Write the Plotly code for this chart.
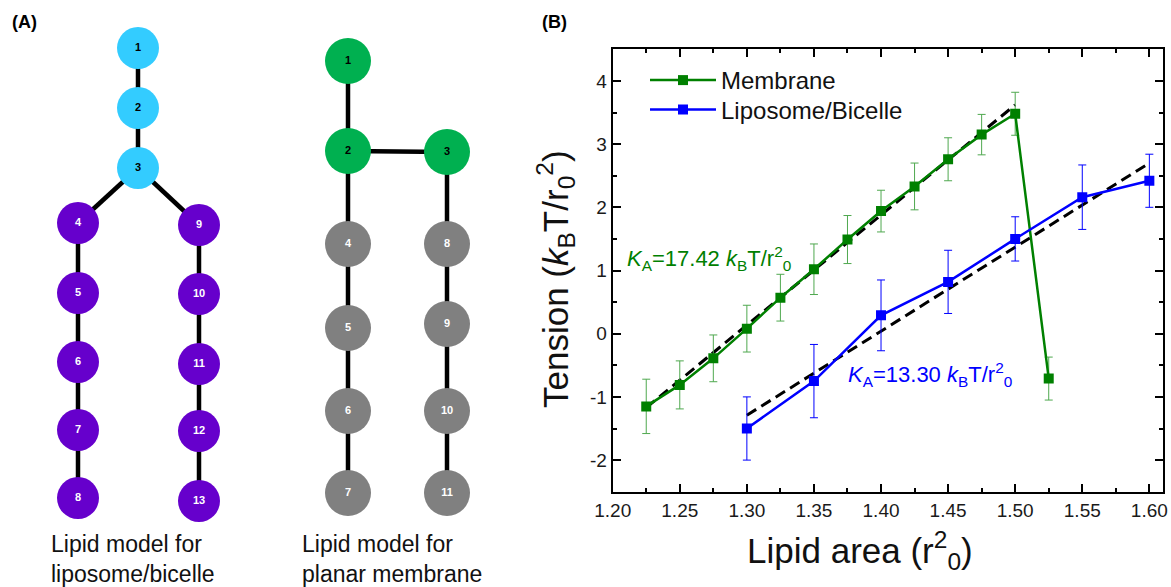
import plotly.graph_objects as go

# ---------------- Panel B data ----------------
area_membrane = [1.225, 1.25, 1.275, 1.30, 1.325, 1.35, 1.375, 1.40, 1.425, 1.45, 1.475, 1.50, 1.525]
tension_membrane = [-1.15, -0.81, -0.39, 0.08, 0.57, 1.02, 1.49, 1.94, 2.33, 2.76, 3.15, 3.48, -0.71]
err_membrane = [0.43, 0.38, 0.37, 0.37, 0.37, 0.40, 0.38, 0.33, 0.37, 0.34, 0.32, 0.34, 0.34]

area_liposome = [1.30, 1.35, 1.40, 1.45, 1.50, 1.55, 1.60]
tension_liposome = [-1.50, -0.75, 0.29, 0.82, 1.50, 2.16, 2.42]
err_liposome = [0.50, 0.58, 0.56, 0.50, 0.35, 0.51, 0.42]

# linear fits: tension = K_A * (area - area_start) + tension_start
fit_membrane_area = [1.225, 1.50]
fit_membrane_ka = 17.42
fit_membrane_start = -1.17
fit_liposome_area = [1.30, 1.60]
fit_liposome_ka = 13.30
fit_liposome_start = -1.29

x_tick_vals = [1.20, 1.25, 1.30, 1.35, 1.40, 1.45, 1.50, 1.55, 1.60]
x_tick_text = ["1.20", "1.25", "1.30", "1.35", "1.40", "1.45", "1.50", "1.55", "1.60"]
y_tick_vals = [-2, -1, 0, 1, 2, 3, 4]
y_tick_text = ["-2", "-1", "0", "1", "2", "3", "4"]

# ---------------- Panel A diagram data ----------------
lipo_labels = ["1", "2", "3", "4", "5", "6", "7", "8", "9", "10", "11", "12", "13"]
lipo_x = [138, 138, 138, 78, 78, 78, 78, 78, 199, 199, 199, 199, 199]
lipo_y = [48, 108, 168, 223, 293, 362, 430, 498, 225, 294, 364, 431, 501]
lipo_head = [True, True, True] + [False] * 10
lipo_edges = [(1, 2), (2, 3), (3, 4), (3, 9), (4, 5), (5, 6), (6, 7), (7, 8),
              (9, 10), (10, 11), (11, 12), (12, 13)]

planar_labels = ["1", "2", "3", "4", "5", "6", "7", "8", "9", "10", "11"]
planar_x = [348, 348, 447, 348, 348, 348, 348, 447, 447, 447, 447]
planar_y = [61, 151, 152, 244, 328, 411, 493, 244, 324, 411, 493]
planar_head = [True, True, True] + [False] * 8
planar_edges = [(1, 2), (2, 3), (2, 4), (4, 5), (5, 6), (6, 7), (3, 8), (8, 9), (9, 10), (10, 11)]

FONT = "Arial, Liberation Sans, sans-serif"
GREEN = "#008000"
GREEN_ERR = "#4fa84f"
BLUE = "#0000ff"
W, H = 1171, 587

fig = go.Figure()

# ---- diagram ----
def edge_xy(xs, ys, edges):
    ex, ey = [], []
    for a, b in edges:
        ex += [xs[a - 1], xs[b - 1], None]
        ey += [ys[a - 1], ys[b - 1], None]
    return ex, ey

for xs, ys, edges, heads, labels, hc, tc, size in [
    (lipo_x, lipo_y, lipo_edges, lipo_head, lipo_labels, "#33ccff", "#6600cc", 42),
    (planar_x, planar_y, planar_edges, planar_head, planar_labels, "#00b050", "#808080", 46),
]:
    ex, ey = edge_xy(xs, ys, edges)
    fig.add_trace(go.Scatter(x=ex, y=ey, mode="lines", line=dict(color="black", width=4.5),
                             xaxis="x2", yaxis="y2", showlegend=False, hoverinfo="skip"))
    fig.add_trace(go.Scatter(
        x=xs, y=ys, mode="markers+text",
        text=["<b>%s</b>" % t for t in labels],
        textposition="middle center",
        textfont=dict(family=FONT, size=11, color=["black" if h else "white" for h in heads]),
        marker=dict(size=size, color=[hc if h else tc for h in heads], line=dict(width=0)),
        xaxis="x2", yaxis="y2", showlegend=False, hoverinfo="skip"))

# ---- panel B ----
for areas, ka, start in [(fit_membrane_area, fit_membrane_ka, fit_membrane_start),
                         (fit_liposome_area, fit_liposome_ka, fit_liposome_start)]:
    fig.add_trace(go.Scatter(
        x=areas, y=[start + ka * (a - areas[0]) for a in areas], mode="lines",
        line=dict(color="black", width=3, dash="11px,6px"), showlegend=False, hoverinfo="skip"))

fig.add_trace(go.Scatter(
    x=area_membrane, y=tension_membrane, mode="lines+markers", name="Membrane",
    line=dict(color=GREEN, width=2.5),
    marker=dict(symbol="square", size=10, color=GREEN),
    error_y=dict(type="data", array=err_membrane, color=GREEN_ERR, thickness=1, width=4),
    legend="legend"))

fig.add_trace(go.Scatter(
    x=area_liposome, y=tension_liposome, mode="lines+markers", name="Liposome/Bicelle",
    line=dict(color=BLUE, width=2.5),
    marker=dict(symbol="square", size=10, color=BLUE),
    error_y=dict(type="data", array=err_liposome, color=BLUE, thickness=1, width=4),
    legend="legend2"))

axis_common = dict(showline=True, linewidth=2, linecolor="black", mirror="ticks",
                   ticks="inside", ticklen=8, tickwidth=2, tickcolor="black",
                   showgrid=False, zeroline=False, automargin=False,
                   tickfont=dict(family=FONT, size=19, color="#1a1a1a"))

legend_common = dict(xanchor="left", yanchor="middle", bgcolor="rgba(0,0,0,0)",
                     font=dict(family=FONT, size=24, color="#111"), itemwidth=66)

fig.update_layout(
    width=W, height=H, autosize=False,
    margin=dict(l=0, r=0, t=0, b=0, pad=0, autoexpand=False),
    paper_bgcolor="white", plot_bgcolor="white",
    font=dict(family=FONT, color="black"),
    xaxis=dict(domain=[612.7 / W, 1163.3 / W], range=[1.20, 1.6104],
               tickvals=x_tick_vals, ticktext=x_tick_text,
               minor=dict(ticks="inside", ticklen=4, tickwidth=2, dtick=0.025, tick0=1.2,
                          tickcolor="black", showgrid=False),
               **axis_common),
    yaxis=dict(domain=[(H - 491.7) / H, (H - 49.3) / H], range=[-2.5, 4.5],
               tickvals=y_tick_vals, ticktext=y_tick_text,
               minor=dict(ticks="inside", ticklen=4, tickwidth=2, dtick=0.5, tick0=0,
                          tickcolor="black", showgrid=False),
               **axis_common),
    xaxis2=dict(domain=[0, 585.5 / W], range=[0, 585.5], visible=False, fixedrange=True,
                automargin=False),
    yaxis2=dict(domain=[0, 1], range=[H, 0], visible=False, fixedrange=True, anchor="x2",
                automargin=False),
    legend=dict(x=645 / W, y=(H - 80.5) / H, **legend_common),
    legend2=dict(x=645 / W, y=(H - 110) / H, **legend_common),
    showlegend=True,
)

annotations = [
    dict(text="<b>(A)</b>", x=10, y=22, xanchor="left", yanchor="middle", font=dict(size=18)),
    dict(text="<b>(B)</b>", x=540, y=22, xanchor="left", yanchor="middle", font=dict(size=18)),
    dict(text="Lipid model for<br>liposome/bicelle", x=49, y=559, xanchor="left", yanchor="middle",
         align="left", font=dict(size=23, color="#111")),
    dict(text="Lipid model for<br>planar membrane", x=300, y=559, xanchor="left", yanchor="middle",
         align="left", font=dict(size=23, color="#111")),
    dict(text="Lipid area (r<sup>2</sup><sub>0</sub>)", x=860, y=550, xanchor="center", yanchor="middle",
         font=dict(size=35, color="#111")),
    dict(text="Tension (<i>k</i><sub>B</sub>T/r<sub>0</sub><sup>2</sup>)", x=555, y=279, textangle=-90,
         xanchor="center", yanchor="middle", font=dict(size=35, color="#111")),
    dict(text="<i>K</i><sub>A</sub>=17.42 <i>k</i><sub>B</sub>T/r<sup>2</sup><sub>0</sub>", x=625, y=258,
         xanchor="left", yanchor="middle", font=dict(size=22, color=GREEN)),
    dict(text="<i>K</i><sub>A</sub>=13.30 <i>k</i><sub>B</sub>T/r<sup>2</sup><sub>0</sub>", x=846, y=374,
         xanchor="left", yanchor="middle", font=dict(size=22, color=BLUE)),
]
for a in annotations:
    px, py = a.pop("x"), a.pop("y")
    fig.add_annotation(x=px / W, y=(H - py) / H, xref="paper", yref="paper",
                       showarrow=False, **a)

fig.write_html("out.html", config={"displayModeBar": False},
               post_script="document.body.style.margin='0px';document.body.style.overflow='hidden';")
